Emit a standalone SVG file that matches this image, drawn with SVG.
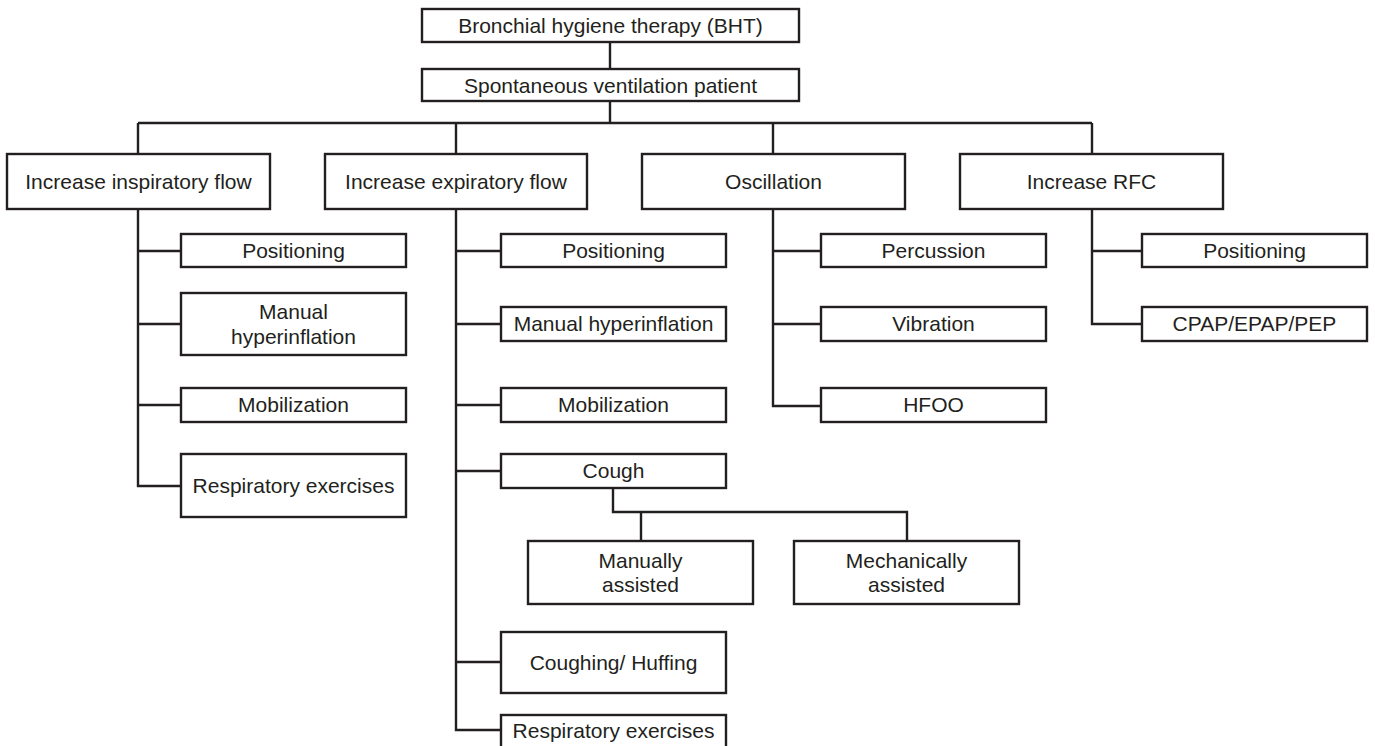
<svg xmlns="http://www.w3.org/2000/svg" width="1375" height="746" viewBox="0 0 1375 746">
<style>
.box{fill:#fff;stroke:#231f20;stroke-width:2.4}
.con{fill:none;stroke:#231f20;stroke-width:2.4}
text{font-family:"Liberation Sans",Arial,sans-serif;font-size:21px;fill:#231f20;text-anchor:middle}
</style>
<rect width="1375" height="746" fill="#fff"/>
<g id="connectors" class="con">
<path d="M610 42V69M610 101V123M138 123H1092M138 123V154M456 123V154M773 123V154M1092 123V154"/>
<path d="M138 209V486H181M138 251H181M138 324H181M138 405H181"/>
<path d="M456 209V730H501M456 251H501M456 324H501M456 405H501M456 471H501M456 662H501"/>
<path d="M613 488V512H907V541M641 512V541"/>
<path d="M773 209V406H821M773 251H821M773 324H821"/>
<path d="M1092 209V324H1142M1092 251H1142"/>
</g>
<g id="bht"><rect class="box" x="422" y="9" width="377" height="33"/><text x="610.5" y="33">Bronchial hygiene therapy (BHT)</text></g>
<g id="spont"><rect class="box" x="422" y="69" width="377" height="32"/><text x="610.5" y="93">Spontaneous ventilation patient</text></g>
<g id="insp"><rect class="box" x="7" y="154" width="263" height="55"/><text x="138.5" y="189">Increase inspiratory flow</text></g>
<g id="exp"><rect class="box" x="325" y="154" width="262" height="55"/><text x="456" y="189">Increase expiratory flow</text></g>
<g id="osc"><rect class="box" x="642" y="154" width="263" height="55"/><text x="773.5" y="189">Oscillation</text></g>
<g id="rfc"><rect class="box" x="960" y="154" width="263" height="55"/><text x="1091.5" y="189">Increase RFC</text></g>

<g id="insp-pos"><rect class="box" x="181" y="234" width="225" height="33"/><text x="293.5" y="258">Positioning</text></g>
<g id="insp-mh"><rect class="box" x="181" y="293" width="225" height="62"/><text x="293.5" y="319">Manual</text><text x="293.5" y="344">hyperinflation</text></g>
<g id="insp-mob"><rect class="box" x="181" y="388" width="225" height="34"/><text x="293.5" y="412">Mobilization</text></g>
<g id="insp-resp"><rect class="box" x="181" y="454" width="225" height="63"/><text x="293.5" y="493">Respiratory exercises</text></g>

<g id="exp-pos"><rect class="box" x="501" y="234" width="225" height="33"/><text x="613.5" y="258">Positioning</text></g>
<g id="exp-mh"><rect class="box" x="501" y="307" width="225" height="34"/><text x="613.5" y="331">Manual hyperinflation</text></g>
<g id="exp-mob"><rect class="box" x="501" y="388" width="225" height="34"/><text x="613.5" y="412">Mobilization</text></g>
<g id="cough"><rect class="box" x="501" y="454" width="225" height="34"/><text x="613.5" y="478">Cough</text></g>
<g id="manual"><rect class="box" x="528" y="541" width="225" height="63"/><text x="640.5" y="568">Manually</text><text x="640.5" y="592">assisted</text></g>
<g id="mech"><rect class="box" x="794" y="541" width="225" height="63"/><text x="906.5" y="568">Mechanically</text><text x="906.5" y="592">assisted</text></g>
<g id="huff"><rect class="box" x="501" y="632" width="225" height="61"/><text x="613.5" y="670">Coughing/ Huffing</text></g>
<g id="exp-resp"><rect class="box" x="501" y="715" width="225" height="40"/><text x="613.5" y="738">Respiratory exercises</text></g>

<g id="perc"><rect class="box" x="821" y="234" width="225" height="33"/><text x="933.5" y="258">Percussion</text></g>
<g id="vib"><rect class="box" x="821" y="307" width="225" height="34"/><text x="933.5" y="331">Vibration</text></g>
<g id="hfoo"><rect class="box" x="821" y="388" width="225" height="34"/><text x="933.5" y="412">HFOO</text></g>

<g id="rfc-pos"><rect class="box" x="1142" y="234" width="225" height="33"/><text x="1254.5" y="258">Positioning</text></g>
<g id="cpap"><rect class="box" x="1142" y="307" width="225" height="34"/><text x="1254.5" y="331">CPAP/EPAP/PEP</text></g>
</svg>
